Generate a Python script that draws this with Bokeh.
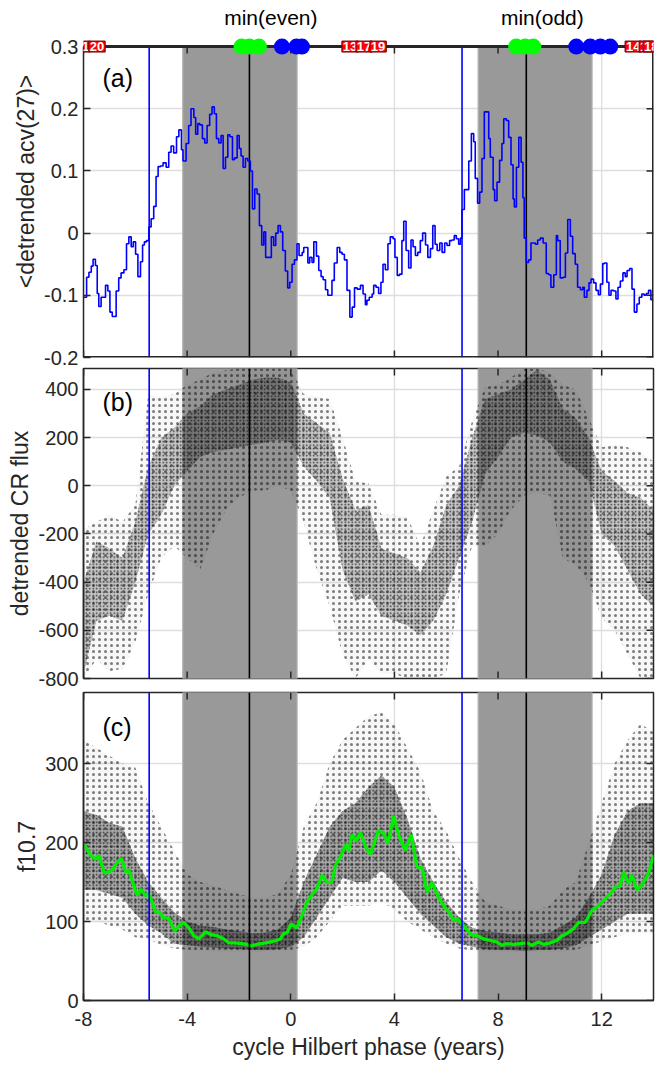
import numpy as np
from bokeh.plotting import figure
from bokeh.models import Range1d, FixedTicker, Span, Label
from bokeh.layouts import column
from bokeh.embed import file_html
from bokeh.resources import INLINE
from bokeh.core.properties import value

# ---------------- data ----------------
x_ticks = [-8, -4, 0, 4, 8, 12]
x_tick_labels = ["-8", "-4", "0", "4", "8", "12"]

blue_lines = [-5.465, 6.61]          # blue vertical markers
min_lines = [-1.596, 9.09]           # black vertical lines (minima)
shade_start = [-4.17, 7.23]
shade_end = [0.245, 11.63]

green_x = [-1.90, -1.60, -1.23, 8.70, 9.05, 9.36]
blue_x = [-0.34, 0.22, 0.43, 11.02, 11.56, 11.95, 12.33]
cycle_labels = ["1", "20", "13", "17", "19", "14", "16", "18"]
cycle_x = [-7.92, -7.48, 2.29, 2.83, 3.37, 13.22, 13.76, 13.91]
min_titles = ["min(even)", "min(odd)"]
min_title_x = [-0.77, 9.71]

# (a) detrended acv(27), stairs
acv_phase = [
    -8.00, -7.88, -7.79, -7.70, -7.63, -7.54, -7.47, -7.41, -7.32, -7.15,
    -7.06, -6.98, -6.89, -6.74, -6.64, -6.55, -6.44, -6.34, -6.25, -6.16,
    -6.08, -5.99, -5.90, -5.80, -5.72, -5.65, -5.57, -5.48, -5.39, -5.29,
    -5.20, -5.12, -5.03, -4.93, -4.81, -4.71, -4.62, -4.52, -4.41, -4.32,
    -4.22, -4.16, -4.04, -3.94, -3.85, -3.74, -3.67, -3.59, -3.51, -3.41,
    -3.32, -3.23, -3.13, -3.04, -2.95, -2.87, -2.78, -2.69, -2.61, -2.52,
    -2.43, -2.35, -2.25, -2.17, -2.07, -1.99, -1.92, -1.84, -1.75, -1.66,
    -1.56, -1.48, -1.39, -1.30, -1.21, -1.12, -1.04, -0.97, -0.75, -0.66,
    -0.58, -0.49, -0.40, -0.31, -0.21, -0.12, -0.04, 0.05, 0.14, 0.24,
    0.32, 0.44, 0.50, 0.66, 0.73, 0.82, 0.89, 0.99, 1.08, 1.17,
    1.25, 1.34, 1.43, 1.59, 1.68, 1.79, 1.89, 1.98, 2.07, 2.17,
    2.28, 2.37, 2.46, 2.56,
    2.69, 2.79, 2.88, 2.94, 3.03, 3.14, 3.20, 3.29, 3.39, 3.48,
    3.56, 3.65, 3.75, 3.84, 3.95, 4.02, 4.11, 4.20, 4.29, 4.36,
    4.45, 4.55, 4.64, 4.72, 4.81, 4.90, 5.00, 5.09, 5.20, 5.29,
    5.39, 5.48, 5.57, 5.65, 5.75, 5.84, 5.94, 6.03, 6.13, 6.22,
    6.31, 6.39, 6.48, 6.55, 6.61, 6.70, 6.87, 6.97, 7.06, 7.12,
    7.21, 7.29, 7.38, 7.47, 7.64, 7.70, 7.81, 7.87, 7.96, 8.06,
    8.15, 8.22, 8.32, 8.41, 8.50, 8.58, 8.63, 8.71, 8.80, 8.89,
    8.96, 9.01, 9.09, 9.18, 9.27, 9.44, 9.53, 9.63, 9.74, 9.86,
    9.95, 10.04, 10.15, 10.25, 10.30, 10.40, 10.51, 10.60, 10.69, 10.79,
    10.88, 10.98, 11.07, 11.18, 11.27, 11.33, 11.43, 11.51, 11.59, 11.69,
    11.78, 11.87, 11.95, 12.04, 12.11, 12.20, 12.28, 12.36, 12.46, 12.55,
    12.63, 12.72, 12.82, 12.91, 12.98, 13.08, 13.17, 13.26, 13.36, 13.45,
    13.55, 13.64, 13.72, 13.81, 13.90, 14.00]
acv_value = [
    -0.103, -0.071, -0.063, -0.053, -0.042, -0.052, -0.097, -0.118, -0.103, -0.084,
    -0.093, -0.127, -0.134, -0.093, -0.072, -0.064, -0.059, -0.017, -0.006, -0.022,
    -0.014, -0.034, -0.070, -0.046, -0.019, -0.014, -0.012, 0.010, 0.023, 0.043,
    0.091, 0.107, 0.108, 0.113, 0.106, 0.130, 0.140, 0.129, 0.155, 0.166,
    0.134, 0.116, 0.144, 0.173, 0.200, 0.186, 0.159, 0.176, 0.174, 0.152,
    0.145, 0.173, 0.191, 0.203, 0.192, 0.152, 0.145, 0.157, 0.104, 0.122,
    0.158, 0.155, 0.118, 0.121, 0.157, 0.136, 0.124, 0.106, 0.120, 0.116,
    0.100, 0.039, 0.071, 0.063, 0.012, -0.019, 0.002, -0.039, -0.006, -0.020,
    0.000, 0.012, 0.002, -0.028, -0.061, -0.088, -0.079, -0.050, -0.043, -0.017,
    -0.036, -0.031, -0.023, -0.048, -0.039, -0.047, -0.014, -0.037, -0.060, -0.070,
    -0.075, -0.091, -0.100, -0.076, -0.048, -0.023, -0.031, -0.034, -0.043, -0.092,
    -0.135, -0.119, -0.088, -0.090,
    -0.084, -0.098, -0.115, -0.108, -0.103, -0.098, -0.084, -0.087, -0.097, -0.079,
    -0.050, -0.059, -0.017, -0.006, -0.009, -0.039, -0.068, -0.066, -0.012, 0.019,
    -0.028, -0.056, -0.011, -0.022, -0.036, -0.031, -0.012, 0.000, -0.019, -0.039,
    -0.025, 0.012, -0.018, -0.028, -0.016, -0.031, -0.016, -0.020, -0.012, -0.011,
    -0.004, -0.009, -0.018, -0.008, 0.038, 0.070, 0.116, 0.160, 0.147, 0.088,
    0.048, 0.066, 0.120, 0.195, 0.152, 0.122, 0.070, 0.052, 0.082, 0.117,
    0.144, 0.184, 0.181, 0.154, 0.110, 0.055, 0.042, 0.106, 0.154, 0.114,
    0.057, -0.008, -0.047, -0.043, -0.016, -0.018, -0.011, -0.008, -0.016, -0.065,
    -0.067, -0.087, -0.067, -0.004, -0.012, -0.072, -0.071, -0.032, 0.022, -0.005,
    -0.033, -0.050, -0.087, -0.091, -0.087, -0.103, -0.092, -0.080, -0.074, -0.080,
    -0.092, -0.099, -0.082, -0.049, -0.048, -0.079, -0.100, -0.092, -0.093, -0.106,
    -0.087, -0.077, -0.064, -0.070, -0.060, -0.057, -0.090, -0.127, -0.114, -0.103,
    -0.098, -0.100, -0.097, -0.092, -0.107, -0.107]

# (b) detrended CR flux: point-cloud envelopes read every 0.5 yr
cloud_phase = [-8.0, -7.5, -7.0, -6.5, -6.0, -5.5, -5.0, -4.5, -4.0, -3.5,
               -3.0, -2.5, -2.0, -1.5, -1.0, -0.5, 0.0, 0.5, 1.0, 1.5,
               2.0, 2.5, 3.0, 3.5, 4.0, 4.5, 5.0, 5.5, 6.0, 6.5,
               7.0, 7.5, 8.0, 8.5, 9.0, 9.5, 10.0, 10.5, 11.0, 11.5,
               12.0, 12.5, 13.0, 13.5, 14.0]
cr_halo_lo = [-800, -720, -770, -760, -650, -450, -300, -250, -300, -350,
              -200, -100, -50, -20, -20, 0, -20, -150, -350, -500,
              -700, -800, -720, -780, -780, -800, -800, -800, -780, -450,
              -250, -250, -200, -100, -40, -30, -40, -300, -330, -400,
              -550, -600, -700, -800, -800]
cr_halo_hi = [-180, -150, -120, -150, -80, 380, 370, 380, 420, 440,
              470, 480, 487, 487, 487, 487, 487, 380, 370, 360,
              200, 20, 10, -120, -120, -130, -250, -100, 40, 80,
              270, 410, 420, 450, 487, 487, 470, 420, 400, 280,
              160, 170, 160, 140, 100]
cr_core_lo = [-780, -560, -540, -560, -400, -200, -120, 0, 60, 120,
              140, 150, 160, 170, 180, 190, 180, 80, 20, -50,
              -350, -480, -450, -540, -560, -580, -620, -560, -450, -300,
              -150, 50, 120, 200, 220, 210, 180, 100, 70, 20,
              -200, -250, -350, -450, -500]
cr_core_hi = [-400, -230, -260, -300, -150, 80, 200, 240, 300, 330,
              380, 400, 420, 440, 450, 450, 430, 300, 260, 220,
              30, -100, -80, -260, -280, -300, -360, -250, -80, 0,
              200, 360, 380, 400, 440, 480, 440, 320, 280, 200,
              60, 20, -30, -50, -100]

# (c) f10.7 point-cloud envelopes and 27-day mean (green)
f_halo_lo = [100, 100, 95, 90, 80, 78, 70, 66, 64, 63, 62, 62, 62, 62, 62, 63, 64, 68, 80, 100,
             120, 120, 120, 125, 115, 100, 90, 80, 72, 66, 63, 62, 62, 62, 62, 62, 62, 62, 64, 70,
             75, 80, 85, 85, 85]
f_halo_hi = [330, 320, 310, 300, 295, 250, 220, 190, 160, 150, 146, 140, 135, 130, 130, 135, 160, 220, 250, 300,
             330, 345, 360, 365, 350, 320, 290, 240, 215, 180, 150, 125, 120, 115, 115, 115, 120, 140, 150, 200,
             250, 300, 330, 350, 340]
f_core_lo = [140, 140, 135, 130, 110, 95, 85, 72, 70, 68, 67, 66, 65, 64, 64, 65, 68, 80, 105, 130,
             155, 150, 150, 165, 150, 130, 110, 95, 80, 72, 68, 65, 64, 64, 63, 64, 64, 66, 70, 80,
             90, 100, 110, 110, 110]
f_core_hi = [240, 235, 225, 220, 180, 150, 130, 112, 100, 95, 93, 90, 88, 85, 86, 90, 105, 150, 185, 220,
             240, 250, 270, 285, 270, 230, 180, 150, 125, 105, 92, 88, 86, 84, 84, 84, 86, 95, 105, 130,
             160, 210, 240, 250, 250]

f107_phase = [
    -7.96, -7.73, -7.54, -7.41, -7.19, -6.89, -6.70, -6.53, -6.38, -6.25,
    -6.06, -5.93, -5.78, -5.61, -5.48, -5.35, -5.22, -5.06, -4.93, -4.71,
    -4.48, -4.30, -4.13, -3.94, -3.74, -3.55, -3.29, -3.04, -2.84, -2.59,
    -2.39, -2.14, -1.88, -1.69, -1.56, -1.30, -0.98, -0.66, -0.40, -0.27,
    -0.14, 0.01, 0.22, 0.37, 0.63, 0.78, 1.01, 1.21, 1.40, 1.59,
    1.72, 1.92, 2.11, 2.24, 2.37, 2.53, 2.69, 2.88, 3.07, 3.39,
    3.59, 3.75, 3.97, 4.17, 4.42, 4.65, 4.87, 5.07, 5.26, 5.45,
    5.64, 5.84, 6.09, 6.29, 6.48, 6.74, 6.97, 7.19, 7.45, 7.70,
    7.96, 8.15, 8.35, 8.60, 8.86, 9.12, 9.31, 9.57, 9.76, 10.02,
    10.27, 10.47, 10.66, 10.92, 11.11, 11.37, 11.62, 11.88, 12.14, 12.33,
    12.55, 12.72, 12.85, 13.04, 13.17, 13.36, 13.55, 13.81, 14.00]
f107_mean = [
    197, 184, 179, 184, 161, 165, 175, 180, 163, 165,
    146, 133, 141, 133, 135, 125, 112, 112, 105, 104,
    88, 95, 99, 92, 82, 78, 87, 83, 82, 78,
    73, 73, 72, 71, 69, 71, 73, 75, 78, 85,
    86, 97, 92, 102, 125, 132, 142, 159, 149, 150,
    171, 182, 197, 190, 210, 202, 213, 195, 185, 216,
    211, 199, 234, 209, 190, 210, 169, 168, 137, 150,
    135, 123, 112, 102, 102, 92, 83, 82, 78, 76,
    74, 70, 72, 71, 72, 73, 70, 74, 71, 73,
    76, 82, 85, 91, 99, 99, 114, 120, 129, 135,
    144, 146, 163, 148, 159, 140, 146, 161, 184]

a_ticks = [-0.2, -0.1, 0.0, 0.1, 0.2, 0.3]
a_tick_labels = ["-0.2", "-0.1", "0", "0.1", "0.2", "0.3"]
b_ticks = [-800, -600, -400, -200, 0, 200, 400]
c_ticks = [0, 100, 200, 300]

# ---------------- style ----------------
FONT = "Liberation Sans"
AXC = "#262626"
GRIDC = "#dedede"
SHADE = "#999999"
TICK_FS = "20px"
LAB_FS = "23px"
TL = 7            # tick length in px
FRAME_W = 570
X_PPU = FRAME_W / 22.0
OVERLAP = 4       # px that each lower figure slides under the one above


def make_fig(height, top, bottom, yr):
    p = figure(width=660, height=height, x_range=Range1d(-8, 14), y_range=Range1d(*yr),
               output_backend="svg", toolbar_location=None,
               min_border_left=83, min_border_right=7, min_border_top=top, min_border_bottom=bottom)
    p.background_fill_color = "white"
    p.border_fill_color = None
    return p


def style_axes(p, yticks, ylabels, ylabel, show_x, ybounds="auto"):
    ya = p.yaxis[0]
    ya.ticker = FixedTicker(ticks=yticks)
    ya.major_label_overrides = {t: l for t, l in zip(yticks, ylabels)}
    ya.major_label_text_font = FONT
    ya.major_label_text_font_size = TICK_FS
    ya.major_label_text_color = AXC
    ya.major_label_standoff = 5
    ya.major_tick_in = TL
    ya.major_tick_out = 0
    ya.minor_tick_line_color = None
    ya.axis_line_color = AXC
    ya.axis_line_width = 1.5
    ya.major_tick_line_color = AXC
    ya.major_tick_line_width = 1.5
    ya.axis_label = ylabel
    ya.axis_label_text_font = FONT
    ya.axis_label_text_font_size = LAB_FS
    ya.axis_label_text_font_style = "normal"
    ya.axis_label_text_color = AXC
    ya.axis_label_standoff = 2
    ya.bounds = ybounds
    xa = p.xaxis[0]
    if show_x:
        xa.ticker = FixedTicker(ticks=x_ticks)
        xa.major_tick_in = TL
        xa.major_tick_out = 0
        xa.minor_tick_line_color = None
        xa.axis_line_color = AXC
        xa.axis_line_width = 1.5
        xa.major_tick_line_color = AXC
        xa.major_tick_line_width = 1.5
        xa.major_label_overrides = {t: l for t, l in zip(x_ticks, x_tick_labels)}
        xa.major_label_text_font = FONT
        xa.major_label_text_font_size = TICK_FS
        xa.major_label_text_color = AXC
        xa.major_label_standoff = 11
        xa.axis_label = "cycle Hilbert phase (years)"
        xa.axis_label_text_font = FONT
        xa.axis_label_text_font_size = LAB_FS
        xa.axis_label_text_font_style = "normal"
        xa.axis_label_text_color = AXC
        xa.axis_label_standoff = 5
    else:
        xa.visible = False
    p.xgrid.ticker = FixedTicker(ticks=x_ticks)
    p.ygrid.ticker = FixedTicker(ticks=yticks)
    for g in (p.xgrid[0], p.ygrid[0]):
        g.grid_line_color = GRIDC
        g.grid_line_width = 1.3


def box_ticks(p, yticks, lo, hi, y_ppu, bottom):
    """inward ticks on the right and top (and bottom) sides of the frame"""
    n = len(yticks)
    p.segment(x0=[14] * n, x1=[14 - TL / X_PPU] * n, y0=yticks, y1=yticks,
              line_color=AXC, line_width=1.5)
    m = len(x_ticks)
    p.segment(x0=x_ticks, x1=x_ticks, y0=[hi] * m, y1=[hi - TL / y_ppu] * m,
              line_color=AXC, line_width=1.5)
    if bottom:
        p.segment(x0=x_ticks, x1=x_ticks, y0=[lo] * m, y1=[lo + TL / y_ppu] * m,
                  line_color=AXC, line_width=1.5)


def draw_shading(p, lo, hi):
    p.quad(left=shade_start, right=shade_end, bottom=lo, top=hi,
           fill_color=SHADE, line_color="#b4b4b4", line_width=1.2)


def draw_cloud(p, hl, hh, cl, ch, core_alpha):
    p.varea(x=cloud_phase, y1=hl, y2=hh, fill_color="black", fill_alpha=0.03,
            hatch_pattern="dot", hatch_color="black", hatch_alpha=0.5,
            hatch_scale=6, hatch_weight=0.6)
    p.varea(x=cloud_phase, y1=cl, y2=ch, fill_color="black", fill_alpha=core_alpha,
            hatch_pattern="dot", hatch_color="black", hatch_alpha=0.7,
            hatch_scale=3.5, hatch_weight=0.6)


def panel_tag(p, txt, x, y):
    p.text(x=[x], y=[y], text=[txt], text_font=value(FONT), text_font_size="25px",
           text_color="black", text_align="left", text_baseline="middle")


# ---------------- panel (a) ----------------
A_LO, A_HI = -0.2, 0.3
A_PPU = 621.0
pa = make_fig(370, 5, 13, (A_LO, A_HI + 41 / A_PPU))
style_axes(pa, a_ticks, a_tick_labels, "<detrended acv(27)>", False, (A_LO, A_HI))
pa.outline_line_color = None
pa.xgrid.visible = False
pa.segment(x0=x_ticks, x1=x_ticks, y0=[A_LO] * len(x_ticks), y1=[A_HI] * len(x_ticks),
           line_color=GRIDC, line_width=1.3)
draw_shading(pa, A_LO, A_HI)
pa.segment(x0=blue_lines, x1=blue_lines, y0=[A_LO] * 2, y1=[A_HI] * 2, line_color="#0000ff", line_width=1.6)
pa.segment(x0=min_lines, x1=min_lines, y0=[A_LO] * 2, y1=[A_HI] * 2, line_color="black", line_width=1.6)
pa.step(x=acv_phase, y=acv_value, mode="after", line_color="#0000ff", line_width=1.6)
# frame lines (top, right, bottom) and inward ticks
pa.segment(x0=[-8, 14, -8], x1=[14, 14, 14], y0=[A_HI, A_LO, A_LO], y1=[A_HI, A_HI, A_LO],
           line_color=AXC, line_width=3)
box_ticks(pa, a_ticks, A_LO, A_HI, A_PPU, True)
pa.scatter(x=green_x, y=[A_HI] * len(green_x), size=16, fill_color="#00ff00", line_color=None)
pa.scatter(x=blue_x, y=[A_HI] * len(blue_x), size=16, fill_color="#0000ff", line_color=None)
for lab, xx in zip(cycle_labels, cycle_x):
    pa.add_layout(Label(x=xx, y=A_HI, text=lab, text_font=FONT, text_font_size="13px",
                        text_font_style="bold", text_color="white", text_align="center",
                        text_baseline="middle", background_fill_color="#ff0000",
                        border_line_color="#7a0000", border_line_width=1, padding=1))
pa.text(x=min_title_x, y=[A_HI + 0.046] * 2, text=min_titles, text_font=value(FONT),
        text_font_size="21px", text_color="black", text_align="center", text_baseline="middle")
panel_tag(pa, "(a)", -7.27, 0.249)

# ---------------- panel (b) ----------------
B_LO, B_HI = -800, 487
pb = make_fig(325, 2, 13, (B_LO, B_HI))
pb.margin = (-OVERLAP, 0, 0, 0)
style_axes(pb, b_ticks, [str(t) for t in b_ticks], "detrended CR flux", False)
pb.outline_line_color = AXC
pb.outline_line_width = 1.5
draw_shading(pb, B_LO, B_HI)
draw_cloud(pb, cr_halo_lo, cr_halo_hi, cr_core_lo, cr_core_hi, 0.2)
for xx in blue_lines:
    pb.add_layout(Span(location=xx, dimension="height", line_color="#0000ff", line_width=1.6))
for xx in min_lines:
    pb.add_layout(Span(location=xx, dimension="height", line_color="black", line_width=1.6))
box_ticks(pb, b_ticks, B_LO, B_HI, 310 / (B_HI - B_LO), True)
panel_tag(pb, "(b)", -7.27, 348)

# ---------------- panel (c) ----------------
C_LO, C_HI = 0, 390
pc = make_fig(378, 5, 65, (C_LO, C_HI))
pc.margin = (-OVERLAP, 0, 0, 0)
style_axes(pc, c_ticks, [str(t) for t in c_ticks], "f10.7", True)
pc.outline_line_color = AXC
pc.outline_line_width = 1.5
draw_shading(pc, C_LO, C_HI)
draw_cloud(pc, f_halo_lo, f_halo_hi, f_core_lo, f_core_hi, 0.32)
for xx in blue_lines:
    pc.add_layout(Span(location=xx, dimension="height", line_color="#0000ff", line_width=1.6))
for xx in min_lines:
    pc.add_layout(Span(location=xx, dimension="height", line_color="black", line_width=1.6))
pc.line(x=f107_phase, y=f107_mean, line_color="#00ee00", line_width=3.2)
box_ticks(pc, c_ticks, C_LO, C_HI, 308 / (C_HI - C_LO), False)
panel_tag(pc, "(c)", -7.27, 346)

layout = column(pa, pb, pc)
open("out.html", "w").write(file_html(layout, INLINE))
